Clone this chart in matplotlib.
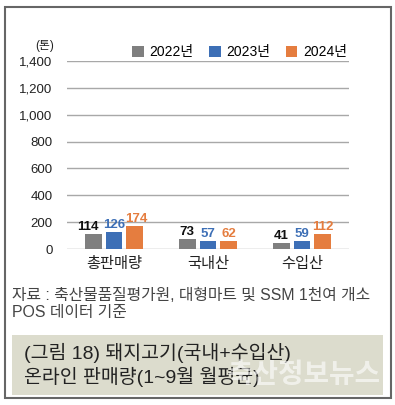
import matplotlib.pyplot as plt
from matplotlib.patches import Rectangle
import numpy as np

plt.rcParams['font.family'] = ['Liberation Sans', 'Noto Sans CJK KR', 'DejaVu Sans']

categories = ['총판매량', '국내산', '수입산']
years = ['2022년', '2023년', '2024년']
v2022 = [114, 73, 41]
v2023 = [126, 57, 59]
v2024 = [174, 62, 112]
yticks = [0, 200, 400, 600, 800, 1000, 1200, 1400]

colors = ['#7f7f7f', '#3d6fb6', '#e57d3f']
label_colors = ['#111111', '#3d6fb6', '#e57d3f']

W, H = 395, 405
fig = plt.figure(figsize=(W / 100, H / 100), dpi=100)
fig.patch.set_facecolor('white')

# outer frame and caption box
fig.patches.append(Rectangle((5 / W, 1 - 398 / H), 386 / W, 391 / H, transform=fig.transFigure,
                             fill=False, edgecolor='#666666', lw=1.5))
fig.patches.append(Rectangle((12 / W, 1 - 395 / H), 371 / W, 60 / H, transform=fig.transFigure,
                             facecolor='#dcdccd', edgecolor='none'))

ax = fig.add_axes([67 / W, 1 - 249 / H, 282 / W, 188 / H])
x = np.arange(len(categories))
w = 0.18
step = 0.22
for i, vals in enumerate([v2022, v2023, v2024]):
    pos = x + (i - 1) * step
    ax.bar(pos, vals, width=w, color=colors[i], label=years[i], zorder=3)
    for j, (p, v) in enumerate(zip(pos, vals)):
        # crowded first group: push the outer labels apart a little
        dx = 0.0
        if j == 0 and i == 0:
            dx = -0.06
        elif j == 0 and i == 2:
            dx = 0.02
        ax.text(p + dx, v + 8, str(v), ha='center', va='bottom', fontsize=9.5,
                fontweight='bold', color=label_colors[i], zorder=4)

ax.set_xlim(-0.5, 2.5)
ax.set_ylim(0, 1400)
ax.set_yticks(yticks)
ax.set_yticklabels([f'{t:,}' for t in yticks])
ax.yaxis.grid(True, color='#a8a8a8', lw=1, zorder=0)
ax.set_xticks(x)
ax.set_xticklabels(categories)
for s in ax.spines.values():
    s.set_visible(False)
ax.tick_params(axis='both', length=0, colors='#222222')
ax.tick_params(axis='y', pad=10.5, labelsize=9.5)
ax.tick_params(axis='x', pad=6, labelsize=11)

fig.text(45 / W, 1 - 46 / H, '(톤)', ha='center', va='center', fontsize=8.5, color='#222222')
ax.legend(loc='lower right', bbox_to_anchor=(1.0, 1.0), ncol=3, frameon=False,
          fontsize=10, handlelength=0.85, handleheight=0.85, handletextpad=0.4,
          columnspacing=1.1, borderaxespad=0.15, borderpad=0.0)

fig.text(12 / W, 1 - 295 / H, '자료 : 축산물품질평가원, 대형마트 및 SSM 1천여 개소',
         ha='left', va='center', fontsize=11.4, color='#444444')
fig.text(12 / W, 1 - 313 / H, 'POS 데이터 기준', ha='left', va='center', fontsize=11.4, color='#444444')

fig.text(24 / W, 1 - 353 / H, '(그림 18) 돼지고기(국내+수입산)', ha='left', va='center',
         fontsize=14, color='#222222')
fig.text(24 / W, 1 - 377 / H, '온라인 판매량(1~9월 월평균)', ha='left', va='center',
         fontsize=14, color='#222222')
fig.text(381 / W, 1 - 376 / H, '축산정보뉴스', ha='right', va='center', fontsize=20,
         fontweight='bold', color='white', alpha=0.6)

fig.savefig('out.png', dpi=100)
